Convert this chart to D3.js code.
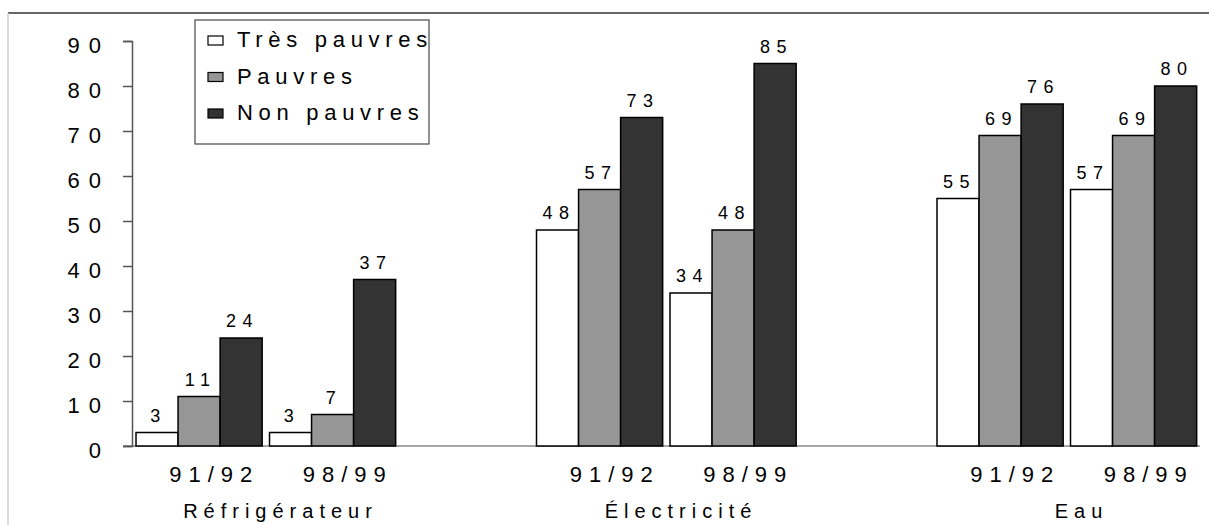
<!DOCTYPE html>
<html><head><meta charset="utf-8">
<script src="https://cdn.jsdelivr.net/npm/d3@7"></script>
<style>
html,body{margin:0;padding:0;background:#fff;}
svg{display:block;font-family:Arial,"Liberation Sans",sans-serif;}
</style></head>
<body>
<svg id="chart" width="1209" height="525"></svg>
<script>
// ---- data ----
const groups = ["Réfrigérateur", "Électricité", "Eau"];
const periods = ["91/92", "98/99"];
const seriesNames = ["Très pauvres", "Pauvres", "Non pauvres"];
const tresPauvres = [3, 3, 48, 34, 55, 57];
const pauvres = [11, 7, 57, 48, 69, 69];
const nonPauvres = [24, 37, 73, 85, 76, 80];
const yTicks = [0, 10, 20, 30, 40, 50, 60, 70, 80, 90];

// ---- styling ----
const colors = ["#ffffff", "#969696", "#333333"];
const svg = d3.select("#chart");
const W = 1209, H = 525;
const x0 = 132, x1 = 1200, yBase = 446, yTop = 41;

// slot keys: each group has two periods, with an empty slot between groups
const slots = [];
groups.forEach((g, gi) => {
  periods.forEach(p => slots.push(g + "|" + p));
  if (gi < groups.length - 1) slots.push("gap" + gi);
});
const x = d3.scaleBand().domain(slots).range([x0, x1]).paddingInner(0).paddingOuter(0);
const bw = x.bandwidth();
const xs = d3.scaleBand().domain(seriesNames).range([bw * 0.03, bw * 0.975]).padding(0);
const y = d3.scaleLinear().domain([0, 90]).range([yBase, yTop]);

// frame
svg.append("line").attr("x1", 8).attr("x2", W).attr("y1", 13).attr("y2", 13)
  .attr("stroke", "#333").attr("stroke-width", 1.3);
svg.append("line").attr("x1", 8).attr("x2", 8).attr("y1", 13).attr("y2", H)
  .attr("stroke", "#c8c8c8").attr("stroke-width", 1.3);

// rows
const rows = [];
groups.forEach((g, gi) => periods.forEach((p, pi) => {
  const i = gi * periods.length + pi;
  rows.push({key: g + "|" + p, group: g, period: p,
    vals: [tresPauvres[i], pauvres[i], nonPauvres[i]]});
}));

// x axis baseline
svg.append("line").attr("x1", 123).attr("x2", x1).attr("y1", y(0)).attr("y2", y(0))
  .attr("stroke", "#888").attr("stroke-width", 1.5);

// y axis
const yAxis = d3.axisLeft(y).tickValues(yTicks).tickSize(9).tickFormat("");
const ya = svg.append("g").attr("transform", `translate(${x0},0)`).call(yAxis);
ya.select(".domain").attr("stroke", "#555").attr("stroke-width", 1.5);
ya.selectAll(".tick line").attr("stroke", "#555").attr("stroke-width", 1.5);
svg.append("g").selectAll("text").data(yTicks).join("text")
  .attr("x", 110).attr("y", d => y(d) + 12)
  .attr("text-anchor", "end").attr("font-size", 22).attr("letter-spacing", 9)
  .attr("fill", "#000").text(d => d);

// bars
const g = svg.append("g");
rows.forEach(r => {
  r.vals.forEach((v, si) => {
    const bx = x(r.key) + xs(seriesNames[si]);
    g.append("rect").attr("x", bx).attr("y", y(v))
      .attr("width", xs.bandwidth()).attr("height", y(0) - y(v))
      .attr("fill", colors[si]).attr("stroke", "#000").attr("stroke-width", 1.5);
    g.append("text").attr("x", bx + xs.bandwidth() / 2 + 1.5).attr("y", y(v) - 11)
      .attr("text-anchor", "middle").attr("font-size", 18).attr("letter-spacing", 6.5)
      .attr("fill", "#000").text(v);
  });
});

// period labels
rows.forEach(r => {
  svg.append("text").attr("x", x(r.key) + bw / 2 + 12 + 3.5)
    .attr("y", 482).attr("text-anchor", "middle").attr("font-size", 22)
    .attr("letter-spacing", 7).attr("fill", "#000").text(r.period);
});
// group labels
groups.forEach(gname => {
  const a = x(gname + "|" + periods[0]), b = x(gname + "|" + periods[1]) + bw;
  svg.append("text").attr("x", (a + b) / 2 + 12 + 3)
    .attr("y", 518).attr("text-anchor", "middle").attr("font-size", 20)
    .attr("letter-spacing", 6).attr("fill", "#000").text(gname);
});

// legend
const lg = svg.append("g");
lg.append("rect").attr("x", 195).attr("y", 20).attr("width", 234).attr("height", 124)
  .attr("fill", "#fff").attr("stroke", "#555").attr("stroke-width", 1.3);
seriesNames.forEach((s, i) => {
  const by = 47 + i * 36.5;
  lg.append("rect").attr("x", 208).attr("y", by - 11).attr("width", 15).attr("height", 9)
    .attr("fill", colors[i]).attr("stroke", "#000").attr("stroke-width", 1.2);
  lg.append("text").attr("x", 237).attr("y", by).attr("font-size", 22)
    .attr("letter-spacing", 5.7).attr("fill", "#000").text(s);
});
</script>
</body></html>
